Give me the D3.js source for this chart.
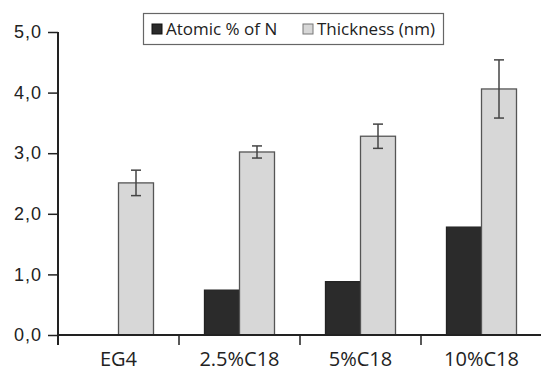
<!DOCTYPE html>
<html>
<head>
<meta charset="utf-8">
<script src="https://cdn.jsdelivr.net/npm/d3@7"></script>
<style>
  body { margin: 0; background: white; }
  svg { display: block; font-family: "Open Sans", sans-serif; }
</style>
</head>
<body>
<div id="chart"></div>
<script>
// chart data
var categories = ["EG4", "2.5%C18", "5%C18", "10%C18"];
var seriesNames = ["Atomic % of N", "Thickness (nm)"];
var atomicN = [0, 0.74, 0.88, 1.78];
var thickness = [2.51, 3.02, 3.28, 4.06];
var thicknessErr = [0.21, 0.10, 0.20, 0.48];
var yTicks = [0, 1, 2, 3, 4, 5];

var width = 541, height = 371;
var seriesColor = ["#2b2b2b", "#d7d7d7"];

var rows = [];
categories.forEach(function(c, i) {
	rows.push({ category: c, series: seriesNames[0], value: atomicN[i], err: null });
	rows.push({ category: c, series: seriesNames[1], value: thickness[i], err: thicknessErr[i] });
});

var svg = d3.select("#chart").append("svg")
	.attr("width", width)
	.attr("height", height);

var x = d3.scaleBand().domain(categories).range([58, 542]).padding(0);
var bw = 35;
var x1 = d3.scaleBand().domain(seriesNames)
	.range([x.bandwidth() / 2 - bw, x.bandwidth() / 2 + bw]).padding(0);
var y = d3.scaleLinear().domain([0, 5]).range([335, 32]);
var color = d3.scaleOrdinal().domain(seriesNames).range(seriesColor);

// bars
svg.append("g").selectAll("rect")
	.data(rows.filter(function(d) { return d.value > 0; }))
	.enter().append("rect")
	.attr("x", function(d) { return x(d.category) + x1(d.series); })
	.attr("y", function(d) { return y(d.value); })
	.attr("width", x1.bandwidth())
	.attr("height", function(d) { return y(0) - y(d.value); })
	.attr("fill", function(d) { return color(d.series); })
	.attr("stroke", function(d) { return d.series == seriesNames[0] ? "#222" : "#555"; })
	.attr("stroke-width", 1.3);

// error bars
var eb = svg.append("g").attr("stroke", "#444").attr("stroke-width", 1.5)
	.selectAll("g")
	.data(rows.filter(function(d) { return d.err != null; }))
	.enter().append("g")
	.attr("transform", function(d) {
		return "translate(" + (x(d.category) + x1(d.series) + x1.bandwidth() / 2) + ",0)";
	});
eb.append("line")
	.attr("y1", function(d) { return y(d.value + d.err); })
	.attr("y2", function(d) { return y(d.value - d.err); });
eb.append("line").attr("x1", -5).attr("x2", 5)
	.attr("y1", function(d) { return y(d.value + d.err); })
	.attr("y2", function(d) { return y(d.value + d.err); });
eb.append("line").attr("x1", -5).attr("x2", 5)
	.attr("y1", function(d) { return y(d.value - d.err); })
	.attr("y2", function(d) { return y(d.value - d.err); });

// y axis
var yAxis = svg.append("g")
	.attr("transform", "translate(58,0)")
	.call(d3.axisLeft(y).tickValues(yTicks).tickSize(10).tickPadding(6)
		.tickFormat(function(d) { return d3.format(".1f")(d).replace(".", ","); }));
yAxis.select(".domain").attr("stroke", "#222").attr("stroke-width", 2).attr("d", "M0," + y(5) + "V" + y(0));
yAxis.selectAll(".tick line").attr("stroke", "#222").attr("stroke-width", 1.5);
yAxis.selectAll(".tick text").attr("fill", "#222")
	.style("font-size", "18px").style("letter-spacing", "1px");

// x axis (ticks at category boundaries)
var xAxis = svg.append("g").attr("transform", "translate(0," + y(0) + ")");
xAxis.append("line").attr("x1", 58).attr("x2", 542)
	.attr("stroke", "#222").attr("stroke-width", 2);
xAxis.selectAll(".bt")
	.data(categories.slice(1))
	.enter().append("line")
	.attr("x1", function(d) { return x(d); })
	.attr("x2", function(d) { return x(d); })
	.attr("y1", 0).attr("y2", 10)
	.attr("stroke", "#222").attr("stroke-width", 1.5);
xAxis.append("line").attr("x1", 58).attr("x2", 58).attr("y1", 0).attr("y2", 10)
	.attr("stroke", "#222").attr("stroke-width", 2);
xAxis.selectAll("text")
	.data(categories)
	.enter().append("text")
	.attr("x", function(d) { return x(d) + x.bandwidth() / 2; })
	.attr("y", 31)
	.attr("text-anchor", "middle")
	.attr("fill", "#222")
	.style("font-size", "20px")
	.text(function(d) { return d; });

// legend
var legend = svg.append("g");
legend.append("rect")
	.attr("x", 143.5).attr("y", 13.5).attr("width", 300).attr("height", 31)
	.attr("fill", "white").attr("stroke", "#666").attr("stroke-width", 1.2);
var legendX = [152, 303];
seriesNames.forEach(function(s, i) {
	legend.append("rect")
		.attr("x", legendX[i]).attr("y", 24).attr("width", 10).attr("height", 10)
		.attr("fill", color(s)).attr("stroke", i == 0 ? "#111" : "#777");
	legend.append("text")
		.attr("x", legendX[i] + 14).attr("y", 35)
		.attr("fill", "#222")
		.style("font-size", "17px")
		.text(s);
});
</script>
</body>
</html>
